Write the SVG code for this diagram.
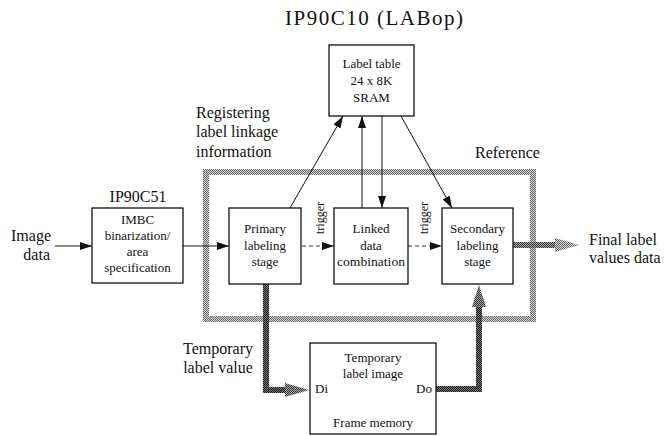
<svg xmlns="http://www.w3.org/2000/svg" width="672" height="436" viewBox="0 0 672 436">
<style>
text{font-family:"Liberation Serif","Times New Roman",serif;fill:#111;}
.t{font-size:13px;text-anchor:middle;}
.l{font-size:16px;}
.box{fill:#fff;stroke:#111;stroke-width:1.3;}
.ln{fill:none;stroke:#111;stroke-width:1;}
.dash{fill:none;stroke:#333;stroke-width:1;stroke-dasharray:4,3;}
.trig{font-size:12px;text-anchor:middle;}
</style>
<defs>
<pattern id="hg" width="2" height="2" patternUnits="userSpaceOnUse"><rect width="2" height="2" fill="#d4d4d4"/><rect width="1" height="1" fill="#6a6a6a"/><rect x="1" y="1" width="1" height="1" fill="#6a6a6a"/></pattern>
<pattern id="hd" width="2" height="2" patternUnits="userSpaceOnUse"><rect width="2" height="2" fill="#777"/><rect width="1" height="1" fill="#1a1a1a"/><rect x="1" y="1" width="1" height="1" fill="#1a1a1a"/></pattern>
<pattern id="hm" width="2" height="2" patternUnits="userSpaceOnUse"><rect width="2" height="2" fill="#aaa"/><rect width="1" height="1" fill="#333"/><rect x="1" y="1" width="1" height="1" fill="#333"/></pattern>
<marker id="ah" viewBox="0 0 12 8" refX="12" refY="4" markerWidth="12" markerHeight="8" orient="auto" markerUnits="userSpaceOnUse"><path d="M0,0 L12,4 L0,8 z" fill="#111"/></marker>
</defs>

<text x="374" y="25" style="font-size:21px;text-anchor:middle" textLength="178" lengthAdjust="spacing">IP90C10 (LABop)</text>

<g id="reference-frame">
<rect x="206" y="172" width="327" height="147" fill="none" stroke="url(#hg)" stroke-width="6"/>
<text x="475" y="158" class="l">Reference</text>
</g>

<g id="connectors">
<line class="ln" x1="55" y1="246" x2="92" y2="246" marker-end="url(#ah)"/>
<line class="ln" x1="183" y1="246" x2="229" y2="246" marker-end="url(#ah)"/>
<line class="dash" x1="302" y1="246" x2="334" y2="246" marker-end="url(#ah)"/>
<line class="dash" x1="408" y1="246" x2="442" y2="246" marker-end="url(#ah)"/>
<line class="ln" x1="290" y1="208" x2="343" y2="116" marker-end="url(#ah)"/>
<line class="ln" x1="362" y1="208" x2="362" y2="116" marker-end="url(#ah)"/>
<line class="ln" x1="382" y1="116" x2="382" y2="208" marker-end="url(#ah)"/>
<line class="ln" x1="401" y1="116" x2="452" y2="208" marker-end="url(#ah)"/>
<path d="M266,284 V390 H288" fill="none" stroke="url(#hd)" stroke-width="6"/>
<polygon points="285,383 309,390 285,397" fill="url(#hm)"/>
<path d="M436,389 H479 V306" fill="none" stroke="url(#hd)" stroke-width="6"/>
<polygon points="472,307 479,285 486,307" fill="url(#hm)"/>
<path d="M513,245 H558" fill="none" stroke="url(#hm)" stroke-width="6"/>
<polygon points="555,238 579,245 555,252" fill="url(#hg)"/>
<text class="trig" transform="translate(324,218) rotate(-90)">trigger</text>
<text class="trig" transform="translate(428,218) rotate(-90)">trigger</text>
</g>

<g id="image-data">
<text x="51" y="241" class="l" text-anchor="end">Image</text>
<text x="50" y="260" class="l" text-anchor="end">data</text>
</g>

<g id="imbc">
<text x="138" y="202" class="l" text-anchor="middle">IP90C51</text>
<rect class="box" x="92" y="208" width="91" height="75"/>
<text x="137.5" y="224" class="t">IMBC</text>
<text x="137.5" y="240" class="t">binarization/</text>
<text x="137.5" y="256" class="t">area</text>
<text x="137.5" y="272" class="t">specification</text>
</g>

<g id="label-table">
<rect class="box" x="329" y="45" width="85" height="71"/>
<text x="371.5" y="68" class="t">Label table</text>
<text x="371.5" y="85" class="t">24 x 8K</text>
<text x="371.5" y="102" class="t">SRAM</text>
</g>

<g id="registering-label">
<text x="196" y="118" class="l">Registering</text>
<text x="196" y="137" class="l">label linkage</text>
<text x="196" y="157" class="l">information</text>
</g>

<g id="primary">
<rect class="box" x="229" y="208" width="72" height="76"/>
<text x="265" y="233" class="t">Primary</text>
<text x="265" y="250" class="t">labeling</text>
<text x="265" y="266" class="t">stage</text>
</g>

<g id="linked">
<rect class="box" x="334" y="208" width="74" height="76"/>
<text x="371" y="233" class="t">Linked</text>
<text x="371" y="250" class="t">data</text>
<text x="371" y="266" class="t" textLength="68" lengthAdjust="spacingAndGlyphs">combination</text>
</g>

<g id="secondary">
<rect class="box" x="442" y="208" width="71" height="76"/>
<text x="477.5" y="233" class="t">Secondary</text>
<text x="477.5" y="250" class="t">labeling</text>
<text x="477.5" y="266" class="t">stage</text>
</g>

<g id="final-output">
<text x="589" y="245" class="l">Final label</text>
<text x="589" y="263" class="l">values data</text>
</g>

<g id="temporary-label">
<text x="218" y="354" class="l" text-anchor="middle">Temporary</text>
<text x="218" y="373" class="l" text-anchor="middle">label value</text>
</g>

<g id="frame-memory">
<rect class="box" x="310" y="343" width="126" height="91"/>
<text x="373" y="362" class="t">Temporary</text>
<text x="373" y="378" class="t">label image</text>
<text x="315" y="393" style="font-size:13px">Di</text>
<text x="432" y="393" style="font-size:13px;text-anchor:end">Do</text>
<text x="373" y="427" class="t">Frame memory</text>
</g>
</svg>
